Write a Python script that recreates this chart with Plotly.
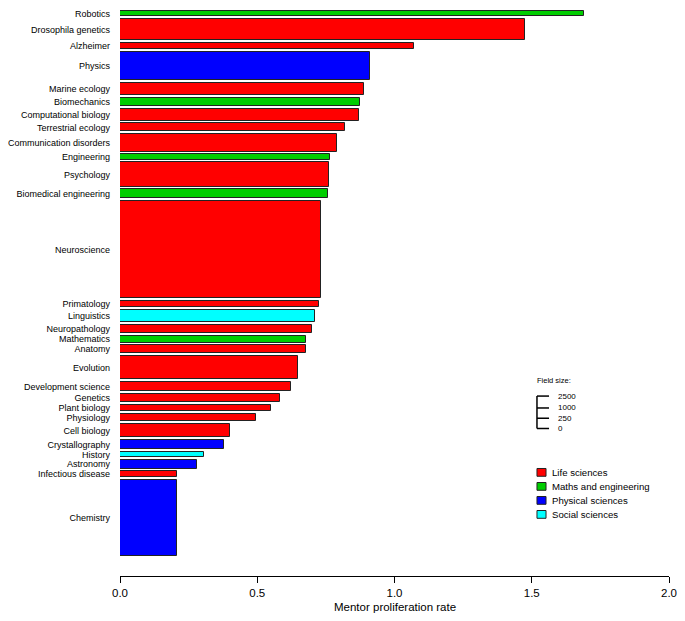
import numpy as np
import plotly.graph_objects as go

# fields from top to bottom, as drawn
fields = [
    "Robotics", "Drosophila genetics", "Alzheimer", "Physics", "Marine ecology",
    "Biomechanics", "Computational biology", "Terrestrial ecology",
    "Communication disorders", "Engineering", "Psychology", "Biomedical engineering",
    "Neuroscience", "Primatology", "Linguistics", "Neuropathology", "Mathematics",
    "Anatomy", "Evolution", "Development science", "Genetics", "Plant biology",
    "Physiology", "Cell biology", "Crystallography", "History", "Astronomy",
    "Infectious disease", "Chemistry",
]
LS, ME, PS, SS = "Life sciences", "Maths and engineering", "Physical sciences", "Social sciences"
area = [
    ME, LS, LS, PS, LS, ME, LS, LS, LS, ME, LS, ME, LS, LS, SS, LS, ME, LS, LS,
    LS, LS, LS, LS, LS, PS, SS, PS, LS, PS,
]
# mentor proliferation rate (bar length)
rate = [
    1.69, 1.477, 1.072, 0.909, 0.889, 0.873, 0.869, 0.818, 0.791, 0.765, 0.761,
    0.759, 0.732, 0.726, 0.709, 0.701, 0.679, 0.679, 0.648, 0.622, 0.583, 0.551,
    0.494, 0.400, 0.378, 0.307, 0.281, 0.207, 0.207,
]
# field size (bar thickness ~ sqrt of size)
field_size = [
    60, 1100, 80, 1900, 390, 150, 330, 150, 740, 60, 1400, 190, 22500, 80, 390,
    150, 110, 150, 1300, 190, 150, 110, 110, 450, 190, 60, 190, 80, 13600,
]
size_ticks = [0, 250, 1000, 2500]

colors = {LS: "#FF0000", ME: "#00CD00", PS: "#0000FF", SS: "#00FFFF"}

# stack bars top-down, thickness = sqrt(field size)
gap = 4.25
widths = np.sqrt(field_size)
tops = 4.6 + np.concatenate([[0], np.cumsum(widths + gap)[:-1]])
centers = tops + widths / 2

fig = go.Figure()
fig.add_trace(go.Bar(
    x=rate, y=centers, width=widths, orientation="h",
    marker=dict(color=[colors[a] for a in area], line=dict(color="#222222", width=1)),
    showlegend=False, hoverinfo="skip",
))

font = "Liberation Sans, Arial, sans-serif"
shapes, annos = [], []

# field size key, drawn in the same y units as the bars
key_x, key_base = 1.519, 648.5
key_top = key_base - np.sqrt(max(size_ticks))
shapes.append(dict(type="line", xref="x", yref="y", x0=key_x, x1=key_x,
                   y0=key_base, y1=key_top, line=dict(color="black", width=1.5)))
for s in size_ticks:
    yy = key_base - np.sqrt(s)
    shapes.append(dict(type="line", xref="x", yref="y", x0=key_x, x1=key_x + 0.044,
                       y0=yy, y1=yy, line=dict(color="black", width=1.5)))
    annos.append(dict(x=key_x + 0.069, y=yy, xref="x", yref="y", text=str(s),
                      showarrow=False, xanchor="left", yanchor="middle",
                      font=dict(size=8, color="black", family=font)))
annos.append(dict(x=key_x - 0.007, y=key_top - 24.5, xref="x", yref="y",
                  text="Field size:", showarrow=False, xanchor="left", yanchor="middle",
                  font=dict(size=7.5, color="black", family=font)))

# colour key
for i, (name, col) in enumerate(colors.items()):
    yc = 716.2 + i * 21.6
    shapes.append(dict(type="rect", xref="x", yref="y", x0=key_x, x1=key_x + 0.033,
                       y0=yc - 6, y1=yc + 6, fillcolor=col,
                       line=dict(color="#222222", width=1)))
    annos.append(dict(x=key_x + 0.047, y=yc, xref="x", yref="y", text=name,
                      showarrow=False, xanchor="left", yanchor="middle",
                      font=dict(size=9.6, color="black", family=font)))

# x axis title
annos.append(dict(x=0.5, y=0, xref="paper", yref="paper", text="Mentor proliferation rate",
                  showarrow=False, xanchor="center", yanchor="middle", yshift=-30.5,
                  font=dict(size=11.5, color="black", family=font)))

fig.update_layout(
    width=669, height=605,
    margin=dict(l=112, r=8, t=0, b=37, autoexpand=False),
    plot_bgcolor="white", paper_bgcolor="white",
    font=dict(family=font, color="black"),
    shapes=shapes, annotations=annos,
    bargap=0,
)
fig.update_xaxes(
    range=[0, 2], tickvals=[0, 0.5, 1, 1.5, 2], ticktext=["0.0", "0.5", "1.0", "1.5", "2.0"],
    ticks="outside", ticklen=6, tickcolor="black", showline=True, linecolor="black",
    showgrid=False, zeroline=False, tickfont=dict(size=11.5), automargin=False,
)
fig.update_yaxes(
    range=[876, 0], tickvals=centers, ticktext=fields,
    showgrid=False, zeroline=False, showline=False, ticks="",
    tickfont=dict(size=9), ticklabelstandoff=9, automargin=False,
    ticklabeloverflow="allow",
)

fig.write_html("out.html")
